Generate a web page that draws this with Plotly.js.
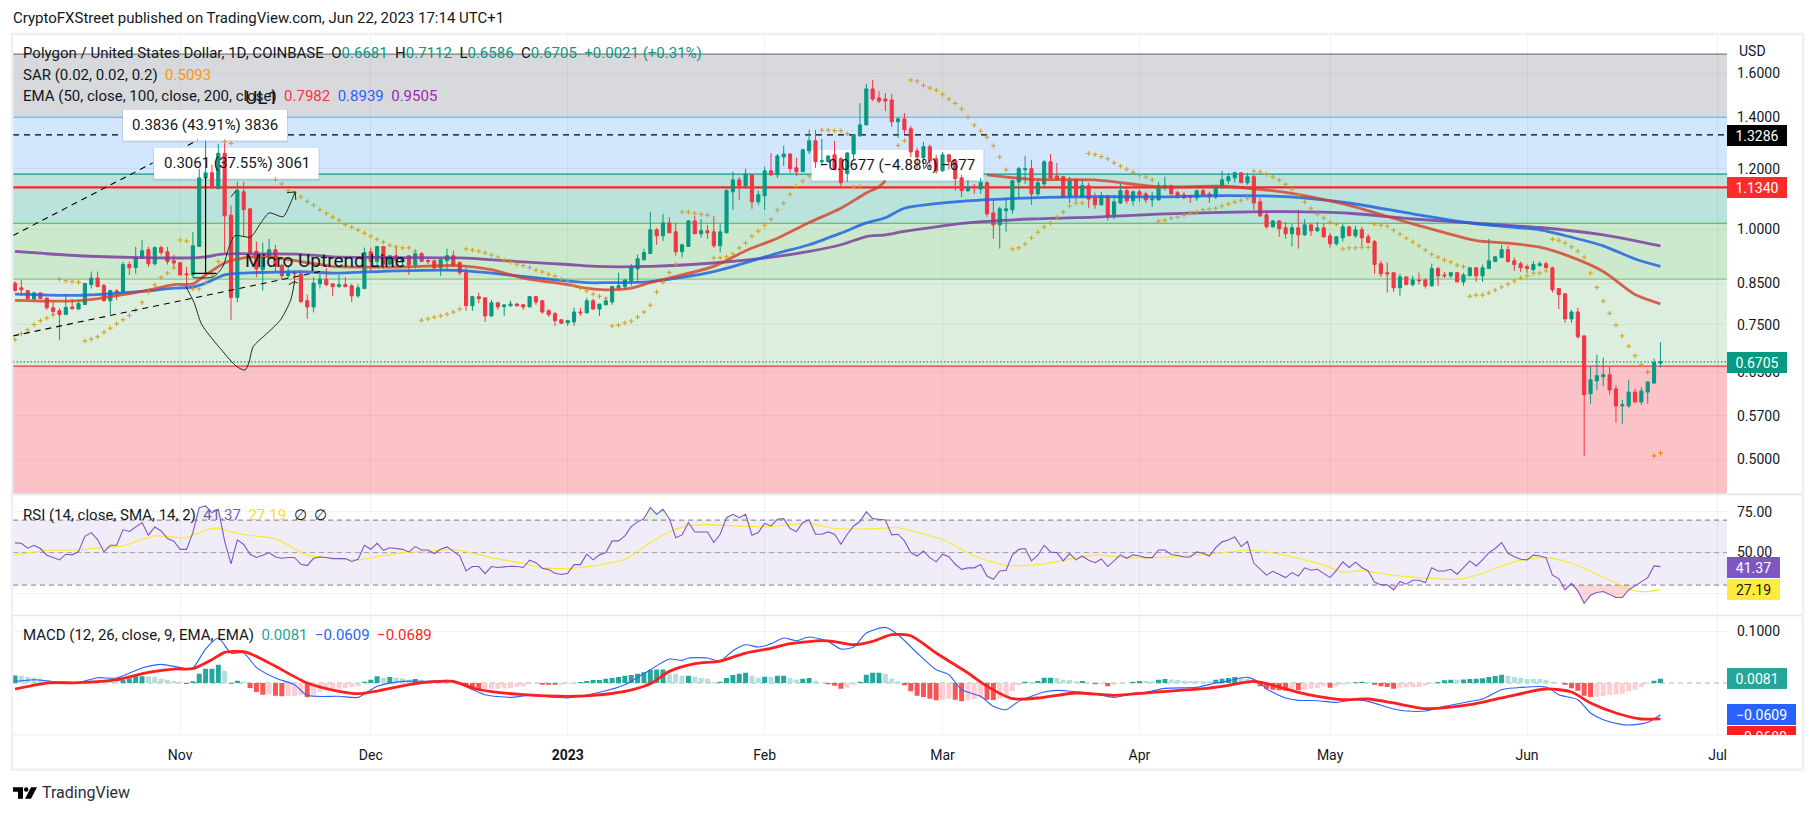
<!DOCTYPE html>
<html><head><meta charset="utf-8">
<script src="https://cdn.plot.ly/plotly-3.0.1.min.js"></script>
<style>html,body{margin:0;padding:0;background:#fff}#c{width:1815px;height:815px}</style>
</head><body><div id="c"></div>
<script>
const opens=[.850,.838,.8305,.810,.825,.812,.789,.782,.773,.791,
.786,.797,.846,.863,.844,.806,.830,.828,.899,.891,
.916,.940,.901,.946,.934,.909,.904,.874,.871,.949,
1.167,1.185,1.130,1.257,1.043,.814,1.119,1.063,.936,.885,
.917,.940,.897,.869,.878,.874,.806,.791,.848,.860,
.848,.841,.846,.843,.818,.836,.934,.907,.949,.900,
.923,.909,.923,.898,.929,.910,.909,.890,.909,.923,
.904,.877,.794,.816,.813,.770,.801,.792,.794,.798,
.796,.791,.816,.806,.782,.775,.761,.754,.756,.779,
.777,.806,.786,.796,.803,.838,.841,.856,.887,.912,
.929,.998,.980,1.019,.992,.934,.949,1.025,.986,.995,
.992,.951,.989,1.119,1.160,1.140,1.178,1.086,1.106,1.192,
1.178,1.243,1.254,1.203,1.189,1.266,1.305,1.225,1.225,1.251,
1.236,1.182,1.254,1.325,1.369,1.526,1.485,1.480,1.476,1.382,
1.394,1.353,1.266,1.240,1.282,1.236,1.192,1.251,1.229,1.167,
1.123,1.137,1.129,1.150,1.050,1.013,1.057,1.060,1.153,1.196,
1.200,1.112,1.146,1.225,1.174,1.171,1.102,1.160,1.102,1.140,
1.099,1.076,1.106,1.044,1.082,1.123,1.089,1.119,1.112,1.092,
1.092,1.136,1.140,1.116,1.109,1.106,1.099,1.123,1.112,1.102,
1.133,1.157,1.167,1.185,1.150,1.171,1.086,1.044,1.007,1.025,
1.004,.986,1.004,.983,1.013,.995,1.004,.980,.957,.974,
1.007,.980,.998,.977,.963,.901,.877,.877,.838,.866,
.846,.858,.858,.843,.888,.871,.869,.877,.853,.869,
.890,.869,.888,.907,.918,.940,.909,.901,.893,.885,
.896,.901,.890,.836,.823,.763,.779,.725,.609,.633,
.641,.645,.618,.587,.587,.612,.594,.612,.629,.6681];
const highs=[.854,.858,.833,.829,.826,.815,.802,.788,.823,.810,
.808,.850,.880,.880,.848,.833,.835,.906,.907,.948,
.968,.948,.949,.951,.948,.926,.905,.892,.991,1.199,
1.306,1.214,1.293,1.301,1.074,1.154,1.154,1.065,.963,.960,
.971,.954,.899,.894,.880,.876,.821,.865,.874,.889,
.848,.871,.865,.848,.848,.946,.946,.949,.949,.923,
.951,.918,.923,.938,.934,.918,.912,.912,.943,.937,
.907,.891,.818,.826,.813,.808,.803,.796,.806,.801,
.798,.816,.818,.808,.786,.779,.763,.761,.789,.789,
.813,.811,.798,.813,.843,.877,.860,.901,.926,.943,
1.054,1.004,1.047,1.037,1.019,.957,1.028,1.041,1.031,1.013,
1.041,1.016,1.129,1.189,1.170,1.200,1.182,1.123,1.207,1.258,
1.254,1.286,1.258,1.240,1.274,1.349,1.349,1.313,1.247,1.305,
1.243,1.262,1.332,1.462,1.549,1.568,1.516,1.507,1.503,1.403,
1.419,1.365,1.278,1.301,1.290,1.251,1.262,1.254,1.232,1.178,
1.160,1.146,1.167,1.157,1.092,1.070,1.099,1.160,1.207,1.247,
1.232,1.164,1.232,1.254,1.221,1.174,1.171,1.164,1.160,1.150,
1.116,1.119,1.109,1.109,1.146,1.140,1.123,1.126,1.119,1.119,
1.153,1.171,1.143,1.123,1.119,1.109,1.126,1.129,1.119,1.140,
1.192,1.185,1.189,1.185,1.185,1.178,1.099,1.057,1.028,1.028,
1.022,1.016,1.060,1.031,1.016,1.022,1.016,.989,.980,1.016,
1.007,1.010,1.007,.986,.968,.909,.904,.877,.874,.866,
.869,.877,.863,.901,.893,.879,.879,.879,.877,.893,
.890,.899,.971,.923,.954,.951,.918,.907,.899,.909,
.907,.907,.893,.836,.823,.784,.789,.725,.661,.685,
.679,.661,.625,.598,.635,.618,.621,.631,.677,.7112];
const lows=[.829,.818,.808,.808,.810,.784,.769,.716,.773,.784,
.786,.797,.836,.839,.805,.774,.808,.823,.871,.874,
.914,.892,.896,.924,.899,.889,.871,.837,.865,.949,
1.165,1.130,1.130,.931,.761,.802,.978,.926,.865,.831,
.914,.880,.860,.863,.846,.800,.763,.778,.836,.841,
.818,.838,.839,.803,.813,.836,.880,.894,.887,.899,
.894,.899,.871,.888,.907,.900,.887,.869,.885,.894,
.871,.782,.782,.800,.756,.768,.784,.770,.791,.791,
.784,.791,.796,.775,.768,.747,.752,.747,.747,.770,
.777,.784,.770,.796,.796,.833,.833,.843,.856,.909,
.929,.954,.965,.989,.923,.918,.949,.986,.974,.971,
.945,.932,.989,1.060,1.092,1.129,1.063,1.076,1.060,1.174,
1.167,1.210,1.185,1.174,1.189,1.254,1.203,1.210,1.221,1.196,
1.133,1.153,1.232,1.321,1.369,1.471,1.462,1.427,1.361,1.317,
1.333,1.243,1.200,1.200,1.196,1.182,1.189,1.196,1.123,1.102,
1.119,1.112,1.112,1.037,.971,.943,.992,1.047,1.095,1.146,
1.076,1.106,1.136,1.164,1.160,1.102,1.082,1.089,1.102,1.066,
1.063,1.073,1.025,1.031,1.079,1.079,1.073,1.086,1.082,1.070,
1.092,1.123,1.109,1.095,1.095,1.082,1.089,1.109,1.082,1.095,
1.133,1.146,1.150,1.150,1.143,1.060,1.037,1.001,1.004,.977,
.971,.949,.943,.980,.980,.992,.974,.946,.951,.963,
.980,.974,.951,.960,.874,.866,.826,.828,.818,.846,
.841,.846,.836,.841,.843,.863,.863,.853,.843,.869,
.853,.853,.888,.907,.918,.904,.882,.879,.877,.882,
.893,.890,.826,.786,.754,.754,.719,.505,.591,.616,
.623,.607,.558,.556,.584,.592,.589,.591,.627,.6586];
const closes=[.831,.833,.8105,.825,.811,.789,.780,.773,.790,.787,
.799,.849,.863,.841,.806,.831,.827,.899,.890,.918,
.937,.901,.946,.932,.907,.903,.871,.872,.951,1.167,
1.185,1.132,1.257,1.041,.814,1.123,1.061,.932,.887,.917,
.940,.894,.869,.876,.874,.804,.791,.850,.860,.846,
.841,.846,.841,.818,.838,.932,.907,.949,.900,.923,
.910,.918,.898,.929,.907,.907,.890,.912,.923,.899,
.877,.794,.816,.811,.770,.801,.791,.796,.798,.794,
.791,.816,.803,.779,.773,.759,.753,.759,.779,.777,
.806,.786,.798,.806,.841,.843,.858,.890,.915,.932,
.998,.980,1.019,.989,.934,.954,1.025,.986,.995,.989,
.951,.992,1.123,1.160,1.140,1.181,1.086,1.109,1.192,1.178,
1.247,1.254,1.200,1.189,1.270,1.305,1.225,1.229,1.247,1.196,
1.150,1.258,1.329,1.369,1.526,1.480,1.471,1.471,1.382,1.394,
1.349,1.262,1.243,1.282,1.229,1.192,1.251,1.225,1.164,1.123,
1.136,1.134,1.150,1.047,1.013,1.063,1.063,1.157,1.200,1.200,
1.112,1.150,1.225,1.167,1.164,1.102,1.157,1.106,1.140,1.095,
1.076,1.106,1.041,1.086,1.123,1.089,1.119,1.109,1.092,1.095,
1.140,1.140,1.112,1.106,1.099,1.102,1.123,1.109,1.102,1.136,
1.160,1.171,1.185,1.150,1.171,1.082,1.041,1.007,1.025,1.001,
.986,1.004,.983,1.013,.995,1.004,.977,.957,.977,1.007,
.980,.998,.974,.960,.899,.874,.874,.838,.866,.846,
.858,.856,.843,.888,.869,.869,.877,.853,.871,.890,
.869,.890,.909,.920,.940,.907,.899,.890,.888,.899,
.901,.890,.833,.821,.763,.779,.723,.607,.635,.643,
.645,.616,.587,.589,.612,.594,.614,.631,.669,.6705];
const sar=[.717,.730,.738,.750,.759,.765,.773,.860,.856,.854,.852,
.714,.718,.723,.733,.742,.752,.761,.771,.783,.802,.827,.845,.865,.876,.890,
.968,.965,.835,.835,.850,.871,.907,
1.302,1.295,null,null,null,null,null,null,1.161,1.146,1.123,1.116,1.102,1.087,1.075,
1.060,1.049,1.037,1.027,1.014,1.006,.997,.988,.979,.970,.962,.953,.948,.945,.945,.936,
.760,.763,.767,.770,.774,.779,.786,
.942,.939,.936,.931,.925,.919,.911,.906,.900,.896,.891,.884,.879,.873,.868,.860,.855,.845,.837,.830,
.822,.817,.812,
.747,.749,.754,.758,.767,.779,.795,.827,.852,.878,.900,
1.053,1.053,1.049,1.046,1.043,
.917,.917,.920,.928,.945,.959,.979,.994,1.012,1.030,1.059,1.081,1.111,1.137,1.156,1.174,
null,
1.348,1.348,1.345,1.345,1.333,
1.135,1.138,null,null,null,null,null,1.287,1.305,
1.567,1.562,1.542,1.530,1.520,1.500,1.480,1.461,1.436,1.401,1.368,1.344,1.319,1.286,1.243,1.196,
.942,.945,.956,.974,.991,1.006,1.018,1.037,1.053,1.072,1.082,1.082,
1.256,1.252,1.244,1.236,1.221,1.209,1.198,1.187,1.177,1.170,1.160,
1.024,1.027,
1.034,1.037,1.043,1.049,1.053,1.060,1.063,1.065,1.072,1.079,1.085,1.091,1.098,
1.191,1.188,1.180,1.170,1.159,1.145,1.128,1.108,1.085,1.065,1.046,1.034,1.021,1.015,
.942,.945,.945,.947,.947,
1.015,1.012,1.009,.997,.985,.973,.962,.951,.939,.927,.919,.911,.906,.897,.893,
.817,.820,.820,.825,.832,.840,.847,.855,.863,.869,.876,.876,.882,
.970,.967,.959,.948,.936,.919,.876,.839,.805,.776,.749,.725,.703,.683,.665,.650,
.505,.5093];
const ema50Idx=[0,10,20,25,28,30,33,36,40,45,50,60,70,75,80,87,90,93,97,100,110,115,120,125,130,134,136,137,138,153,160,170,180,190,200,210,220,230,235,240,245,250,255,259];
const ema50=[.807,.806,.829,.846,.848,.871,.903,.917,.920,.907,.894,.892,.896,.885,.863,.846,.837,.833,.837,.851,.894,.937,.973,1.020,1.065,1.115,1.136,1.157,null,1.178,1.162,1.160,1.136,1.138,1.117,1.074,1.016,.966,.959,.947,.919,.880,.821,.7982];
const ema100Idx=[0,10,20,25,28,30,33,36,40,45,50,60,70,80,87,90,93,100,110,120,125,130,134,137,140,150,160,170,180,190,200,210,220,230,240,245,250,255,259];
const ema100=[.822,.819,.829,.837,.840,.850,.871,.876,.878,.880,.876,.882,.883,.867,.855,.851,.851,.854,.880,.930,.954,.988,1.019,1.035,1.065,1.089,1.099,1.103,1.102,1.106,1.103,1.082,1.047,1.016,.998,.976,.951,.914,.8939];
const ema200Idx=[0,10,20,28,30,33,40,45,50,60,70,80,87,90,93,100,110,120,125,130,134,137,140,150,160,170,180,190,200,210,220,230,240,250,259];
const ema200=[.935,.923,.918,.917,.920,.928,.928,.927,.920,.918,.917,.906,.899,.895,.893,.894,.903,.921,.935,.954,.978,.983,.993,1.019,1.031,1.037,1.046,1.052,1.054,1.049,1.031,1.018,1.005,.983,.9505];
const rsi=[56,55.7,52.7,54.5,52.5,48.4,47,45.5,49,48.6,50.6,60,62.3,58,50.4,54.5,54.5,64,63,66,
68.5,60.7,65.8,63.3,58.6,57,52,52,62.3,77.7,78.7,74.6,76.7,57,43,57.8,55,49,47,48.4,
50,47.3,46.5,47,47,42.8,42,46.5,47.3,47,46.3,46.3,46.3,44.5,45.9,54.5,52,55.7,51.4,53,
52.5,52,50.4,53.7,51.6,51.6,49.4,52,53.5,51,48,38.7,41.4,41.4,37,41.4,40.8,41.2,41.6,41.4,
40.8,45.3,43.8,40.4,39.5,37.3,36.5,37.3,42.6,42.6,49,45.5,48.6,50,57.2,57.2,60.3,66,68.9,70.9,
77.7,73.6,76.7,70.9,59.2,60.9,68.5,62.7,62.7,62.7,56.2,61.3,71.5,73.6,71.5,73.6,60.7,62.3,68,66.4,
70.5,70.9,64.8,62.9,68.5,70.1,61.3,61.3,62.7,61.3,55.1,61.3,66.4,69.1,75.2,70.9,70.5,70.1,60.9,61.3,
57.2,50,47.9,51,46.9,44.3,49,47.5,42.8,39.7,40.6,40.6,42.6,35.6,33.6,38.7,39.1,48.6,52,52.5,
44.9,48.4,54.5,50.4,50,44.9,49.4,45.5,47.9,45.3,43.8,46.1,41.4,44.9,48.6,46.5,48.6,47.9,46.9,46.9,
51.6,51.6,48.8,48.2,47.3,47.3,50.4,49.6,47.9,53.1,56.6,57.8,59.6,53.7,56.8,43.4,39.7,36.1,38.5,36.3,
34.6,37.7,35.6,40.6,39.1,39.7,37.3,34.6,39.1,44.3,40.8,44.1,40.8,38.7,31.9,30.1,30.1,27,32.2,30.5,
33,33,31.5,40.6,38.7,38.7,39.7,36.7,40.8,44.9,41.8,45.5,50,52.5,56.2,49.6,47.5,45.9,45.5,48.4,
47.9,46.9,36.1,34,27,31.1,26.4,18.8,23.7,25.4,26,24.4,22.3,22.3,27,29.5,31.9,34.6,41.8,41.37];
const rsiMaIdx=[0,5,10,13,17,22,27,30,32,34,37,41,46,49,54,57,61,65,69,75,80,83,87,91,96,100,103,106,109,116,119,125,129,136,139,143,146,151,156,161,170,175,179,189,194,199,205,209,212,217,227,230,236,241,245,249,255,257,259];
const rsiMa=[48.6,51.4,51.6,52.9,54.1,60.3,59.2,63.9,65,62.7,60.5,58.6,48.4,46.9,45.5,47.5,50,50.8,52,46.9,43.4,40.8,40.2,41.8,45.9,56.2,62.7,66.4,67.2,66,66,68,64.8,64.8,65.4,61.3,58.2,47.9,42.2,42.6,48.4,46.9,46.9,49.4,51.6,49,43.4,38.1,38.9,36,33.6,36,44.3,46.9,43.4,36.7,26.4,26,27.19];
const hist=[.0147,.0140,.0115,.0102,.0083,.0051,.0032,.0019,.0013,.0013,
.0012,.0036,.0045,.0045,.0042,.0040,.0038,.0064,.0090,.0128,
.0130,.0125,.0122,.0083,.0064,.0038,.0026,-.0019,.0032,.0179,
.0275,.0276,.0352,.0237,-.0013,.0045,.0026,-.0096,-.0173,-.0224,
-.0218,-.0243,-.0256,-.0250,-.0248,-.0230,-.0275,-.0224,-.0173,-.0128,
-.0109,-.0108,-.0096,-.0077,-.0064,.0026,.0064,.0128,.0096,.0115,
.0102,.0090,.0070,.0077,.0064,.0045,.0032,.0019,.0013,.0003,
-.0006,-.0064,-.0090,-.0128,-.0115,-.0109,-.0108,-.0107,-.0096,-.0070,
-.0064,-.0013,-.0006,-.0032,-.0033,-.0034,-.0033,-.0019,-.0013,.0019,
.0038,.0057,.0058,.0083,.0096,.0115,.0141,.0154,.0179,.0205,
.0256,.0258,.0260,.0179,.0178,.0141,.0142,.0122,.0096,.0083,
.0026,.0026,.0096,.0154,.0179,.0198,.0141,.0102,.0122,.0120,
.0141,.0142,.0096,.0070,.0083,.0096,.0045,.0003,-.0026,-.0051,
-.0109,-.0090,-.0045,.0026,.0160,.0198,.0199,.0179,.0083,.0032,
-.0045,-.0160,-.0243,-.0269,-.0301,-.0333,-.0320,-.0301,-.0320,-.0352,
-.0333,-.0307,-.0288,-.0320,-.0326,-.0301,-.0256,-.0160,-.0045,.0026,
.0025,.0038,.0102,.0103,.0096,.0064,.0058,.0032,.0038,.0003,
-.0026,-.0025,-.0064,-.0032,-.0006,-.0002,.0026,.0038,.0037,.0036,
.0064,.0077,.0070,.0058,.0045,.0038,.0037,.0036,.0035,.0064,
.0083,.0096,.0115,.0096,.0077,.0032,-.0064,-.0109,-.0128,-.0141,
-.0147,-.0128,-.0141,-.0128,-.0109,-.0096,-.0064,-.0090,-.0064,-.0032,
-.0013,.0013,.0026,.0019,-.0032,-.0064,-.0077,-.0109,-.0090,-.0085,
-.0080,-.0077,-.0051,-.0013,.0019,.0051,.0064,.0063,.0070,.0077,
.0083,.0090,.0115,.0134,.0160,.0141,.0115,.0102,.0077,.0076,
.0075,.0064,.0026,.0001,-.0032,-.0102,-.0147,-.0243,-.0269,-.0265,
-.0256,-.0224,-.0222,-.0205,-.0160,-.0128,-.0083,-.0019,.0045,.0081];
const macdIdx=[0,3,7,10,13,16,20,23,27,28,30,32,34,36,38,41,44,46,51,54,57,61,65,68,70,74,78,81,87,92,96,100,103,105,106,109,111,113,115,117,119,121,123,125,128,130,132,134,137,139,142,145,147,149,152,154,156,158,162,164,167,170,173,176,178,181,186,189,190,194,196,197,200,202,205,208,211,213,217,219,222,225,229,231,234,236,241,243,246,248,250,253,255,257,259];
const macd=[.0031,.0064,.0019,.0013,.0102,.0096,.0288,.0359,.0276,.0288,.0654,.0865,.0577,.0577,.0301,.0096,-.0032,-.0237,-.0256,-.0276,-.0064,.0032,.0032,.0051,-.0019,-.0224,-.0276,-.0237,-.0288,-.0179,-.0032,.0256,.0461,.0436,.0481,.0481,.0423,.0622,.0737,.0692,.0756,.0865,.0814,.0885,.0801,.0654,.0692,.0961,.1070,.0929,.0577,.0256,.0160,-.0128,-.0256,-.0449,-.0513,-.0353,-.0173,-.0141,-.0167,-.0205,-.0276,-.0199,-.0179,-.0103,-.0083,0,.0013,.0109,0,-.0115,-.0288,-.0333,-.0340,-.0372,-.0320,-.0353,-.0500,-.0538,-.0538,-.0449,-.0353,-.0308,-.0128,-.0096,-.0077,-.0224,-.0321,-.0577,-.0705,-.0801,-.0801,-.0756,-.0609];
const signalIdx=[0,5,10,16,21,25,28,31,33,36,38,41,46,51,54,57,62,66,69,72,75,80,87,91,96,100,103,107,111,115,119,122,127,129,132,135,138,141,145,150,153,157,161,167,173,179,187,190,195,197,202,205,209,213,217,222,229,234,241,245,248,252,256,259];
const signal=[-.0115,0,.0006,.0064,.0205,.0269,.0276,.0449,.0590,.0603,.0513,.0321,0,-.0160,-.0205,-.0154,-.0032,.0026,.0032,-.0096,-.0167,-.0224,-.0256,-.0237,-.0160,-.0013,.0224,.0372,.0423,.0577,.0667,.0756,.0814,.0795,.0737,.0801,.0929,.0910,.0577,.0192,-.0064,-.0301,-.0288,-.0192,-.0237,-.0179,-.0109,-.0064,.0032,-.0013,-.0179,-.0256,-.0320,-.0307,-.0384,-.0493,-.0417,-.0288,-.0115,-.0173,-.0385,-.0577,-.0692,-.0689];
const zoneEdges=[1.694,1.401,1.180,1.018,.860,.662,.4505];
const zoneColors=['#d8d9dd','#d2e6fd','#b9e3db','#cde9cd','#dceedd','#fbc3c7'];
const zoneLines=['#787b86','#64b5f6','#089981','#4caf50','#81c784','#f23645'];
const priceTicks=[1.6,1.4,1.2,1.0,.85,.75,.65,.57,.5];
const priceTickText=['1.6000','1.4000','1.2000','1.0000','0.8500','0.7500','0.6500','0.5700','0.5000'];
const monthTicks=['2022-11-01','2022-12-01','2023-01-01','2023-02-01','2023-03-01','2023-04-01','2023-05-01','2023-06-01','2023-07-01'];
const monthText=['Nov','Dec','<b>2023</b>','Feb','Mar','Apr','May','Jun','Jul'];
// drawings on the price pane: bar index, price
const rangeIdx=[27.9,31.7,null,30,30];
const rangePx=[.875,.875,null,.875,1.171];
const curveAIdx=[28,31.2,32.7,33.7,34.6,37.1,38.7,40,42.2,43.1,44.1];
const curveAPx=[.864,.866,.893,.948,.980,.977,1.019,1.050,1.038,1.069,1.119];
const curveBIdx=[26.9,28.2,29.4,32.5,34.9,36.2,36.8,37.5,39.4,41.8,43.4,44];
const curveBPx=[.841,.801,.750,.695,.661,.654,.668,.702,.727,.761,.808,.854];
const headIdx=[42.8,44.1,44.2,null,43.1,44,44.5,null,34,34.9];
const headPx=[1.116,1.119,1.092,null,.846,.854,.850,null,1.102,1.126];
const trendIdx=[-.3,21.7,null,27.2,28.8,null,-.3,48];
const trendPx=[.981,1.221,null,1.287,1.309,null,.725,.880];

const T0=Date.UTC(2022,9,6),DAY=864e5,PXD=6.353;
const iso=ms=>new Date(ms).toISOString().slice(0,19).replace('T',' ');
const dateAt=i=>i===null?null:iso(T0+i*DAY);
const dates=opens.map((_,i)=>dateAt(i));
const at=a=>a.map(dateAt);
const pxX=px=>dateAt((px-15)/PXD);
const priceAtY=py=>Math.exp((229.3-py)/332);
const fx=px=>(px-13)/1714, fy=py=>(735.3-py)/700.3;
const FONT='Roboto, sans-serif', INK='#131722';

const traces=[];
traces.push({type:'candlestick',x:dates,open:opens,high:highs,low:lows,close:closes,xaxis:'x',yaxis:'y',
  increasing:{line:{color:'#089981',width:1},fillcolor:'#089981'},
  decreasing:{line:{color:'#f23645',width:1},fillcolor:'#f23645'},
  whiskerwidth:0,hoverinfo:'skip',showlegend:false});
const line=(x,y,color,width,ya,extra)=>Object.assign({type:'scatter',mode:'lines',x,y,xaxis:'x',yaxis:ya,
  line:{color,width},hoverinfo:'skip',showlegend:false,connectgaps:false},extra||{});
function sl(x,y,color,width,ya){const t=line(x,y,color,width,ya);t.line.shape='spline';t.line.smoothing=.7;return t;}
traces.push(sl(at(ema200Idx),ema200,'rgba(122,62,160,.85)',2.8,'y'));
traces.push(sl(at(ema100Idx),ema100,'rgba(33,100,225,.85)',2.8,'y'));
traces.push(sl(at(ema50Idx),ema50,'rgba(214,58,40,.78)',2.8,'y'));
traces.push({type:'scatter',mode:'markers',x:dates,y:sar,xaxis:'x',yaxis:'y',hoverinfo:'skip',showlegend:false,
  marker:{symbol:'cross-thin',size:3.4,line:{width:1,color:sar.map(v=>v!==null&&v<.66?'#f57c00':'#cf9f1c')}}});
traces.push(line(at(trendIdx),trendPx,'#000',1.1,'y',{}));traces[traces.length-1].line.dash='6px,5px';
traces.push(line(at(rangeIdx),rangePx,'#000',1.2,'y'));
traces.push(sl(at(curveAIdx),curveAPx,'#1c2b22',1,'y'));
traces.push(sl(at(curveBIdx),curveBPx,'#1c2b22',1,'y'));
traces.push(line(at(headIdx),headPx,'#1c2b22',1,'y'));
// RSI overbought / oversold fills
const base70=rsi.map(()=>70),over=rsi.map(v=>Math.max(v,70));
const base30=rsi.map(()=>30),under=rsi.map(v=>Math.min(v,30));
traces.push(line(dates,base70,'rgba(0,0,0,0)',0,'y2'));
traces.push(line(dates,over,'rgba(0,0,0,0)',0,'y2',{fill:'tonexty',fillcolor:'rgba(76,175,80,.14)'}));
traces.push(line(dates,base30,'rgba(0,0,0,0)',0,'y2'));
traces.push(line(dates,under,'rgba(0,0,0,0)',0,'y2',{fill:'tonexty',fillcolor:'rgba(242,54,69,.2)'}));
traces.push(sl(at(rsiMaIdx),rsiMa,'#fde92f',1.2,'y2'));
traces.push(line(dates,rsi,'#7e57c2',1.1,'y2'));
// MACD
const histColors=hist.map((v,i)=>{const p=i?hist[i-1]:v;return v>=0?(v>=p?'#26a69a':'#b2dfdb'):(v<p?'#ff5252':'#ffcdd2');});
traces.push({type:'bar',x:dates,y:hist,xaxis:'x',yaxis:'y3',width:.78*DAY,marker:{color:histColors,line:{width:0}},hoverinfo:'skip',showlegend:false});
traces.push(sl(at(macdIdx),macd,'#2962ff',1.1,'y3'));
traces.push(sl(at(signalIdx),signal,'#ff1f1f',2.8,'y3'));

const shapes=[];
zoneColors.forEach((c,i)=>shapes.push({type:'rect',xref:'paper',yref:'y',x0:0,x1:1,y0:zoneEdges[i+1],y1:zoneEdges[i],fillcolor:c,line:{width:0},layer:'below'}));
zoneLines.forEach((c,i)=>shapes.push({type:'line',xref:'paper',yref:'y',x0:0,x1:1,y0:zoneEdges[i],y1:zoneEdges[i],line:{color:c,width:1.2},layer:'below'}));
shapes.push({type:'line',xref:'paper',yref:'y',x0:0,x1:1,y0:1.134,y1:1.134,line:{color:'#ff2424',width:2.2},layer:'below'});
shapes.push({type:'line',xref:'paper',yref:'y',x0:0,x1:1,y0:1.3286,y1:1.3286,line:{color:'#000',width:1.1,dash:'6px,5px'},layer:'below'});
shapes.push({type:'line',xref:'paper',yref:'y',x0:0,x1:1,y0:.6705,y1:.6705,line:{color:'#089981',width:1.2,dash:'1.5px,2px'},layer:'below'});
// RSI band
shapes.push({type:'rect',xref:'paper',yref:'y2',x0:0,x1:1,y0:30,y1:70,fillcolor:'#f0ecf8',line:{width:0},layer:'below'});
[[70,'#787b86',1],[50,'rgba(120,123,134,.6)',1],[30,'#787b86',1]].forEach(([v,c,w])=>shapes.push({type:'line',xref:'paper',yref:'y2',x0:0,x1:1,y0:v,y1:v,line:{color:c,width:w,dash:'5px,4px'},layer:'below'}));
shapes.push({type:'line',xref:'paper',yref:'y3',x0:0,x1:1,y0:0,y1:0,line:{color:'rgba(120,123,134,.6)',width:1,dash:'5px,4px'},layer:'below'});
// frame and pane separators
shapes.push({type:'rect',xref:'paper',yref:'paper',x0:fx(12),x1:fx(1803),y0:fy(770),y1:fy(34),line:{color:'#eef0f5',width:2.5},layer:'above'});
[494.6,615.7].forEach(p=>shapes.push({type:'line',xref:'paper',yref:'paper',x0:fx(13),x1:fx(1802),y0:fy(p),y1:fy(p),line:{color:'#e4e6ec',width:1.6},layer:'above'}));
shapes.push({type:'line',xref:'paper',yref:'paper',x0:0,x1:1,y0:0,y1:0,line:{color:'#eceef3',width:1},layer:'above'});
// measure tool labels, drawn behind the candles
[[123,287,110,140.7],[154,318.7,148,179],[811.5,983.5,150,180.7]].forEach(([a,b,c,d])=>{
  shapes.push({type:'rect',xref:'x',yref:'y',layer:'between',x0:pxX(a-1),x1:pxX(b+1),y0:priceAtY(d+2),y1:priceAtY(c),fillcolor:'rgba(60,60,70,.12)',line:{width:0}});
  shapes.push({type:'rect',xref:'x',yref:'y',layer:'between',x0:pxX(a),x1:pxX(b),y0:priceAtY(d),y1:priceAtY(c),fillcolor:'#ffffff',line:{width:0}});
});
// TradingView logo
const P=(x,y)=>fx(x).toFixed(5)+','+fy(y).toFixed(5);
shapes.push({type:'path',xref:'paper',yref:'paper',layer:'above',fillcolor:'#000',line:{width:0},
  path:'M'+P(13,787.5)+' L'+P(23,787.5)+' L'+P(23,799)+' L'+P(18,799)+' L'+P(18,792)+' L'+P(13,792)+' Z'});
shapes.push({type:'path',xref:'paper',yref:'paper',layer:'above',fillcolor:'#000',line:{width:0},
  path:'M'+P(31,787.5)+' L'+P(37,787.5)+' L'+P(31,799)+' L'+P(25,799)+' Z'});
shapes.push({type:'circle',xref:'paper',yref:'paper',layer:'above',fillcolor:'#000',line:{width:0},x0:fx(24),x1:fx(28.4),y0:fy(792),y1:fy(787.6)});

const anns=[];
const T=(px,py,text,opt)=>anns.push(Object.assign({xref:'paper',yref:'paper',x:fx(px),y:fy(py),text,showarrow:false,xanchor:'left',yanchor:'middle',
  font:{family:FONT,size:15,color:INK},borderpad:0,borderwidth:0},opt||{}));
const col=(c,t)=>'<span style="color:'+c+'">'+t+'</span>';
const G='#089981';
T(13,18,'CryptoFXStreet published on TradingView.com, Jun 22, 2023 17:14 UTC+1');
T(23,53.5,'Polygon / United States Dollar, 1D, COINBASE  O'+col(G,'0.6681')+'  H'+col(G,'0.7112')+'  L'+col(G,'0.6586')+'  C'+col(G,'0.6705')+'  '+col(G,'+0.0021 (+0.31%)'));
T(23,75,'SAR (0.02, 0.02, 0.2)  '+col('#ff9800','0.5093'));
T(23,95.7,'EMA (50, close, 100, close, 200, close)  '+col('#f23645','0.7982')+'  '+col('#2962ff','0.8939')+'  '+col('#9c27b0','0.9505'));
T(23,515,'RSI (14, close, SMA, 14, 2)  '+col('#7e57c2','41.37')+'  '+col('#fdd835','27.19')+'  '+'∅  ∅');
T(23,635.7,'MACD (12, 26, close, 9, EMA, EMA)  '+col('#26a69a','0.0081')+'  '+col('#2962ff','−0.0609')+'  '+col('#ff1f1f','−0.0689'));
T(1739,50.7,'USD',{font:{family:FONT,size:14,color:INK}});
T(261,98,'UL1',{xanchor:'center',font:{family:FONT,size:19,color:'#131722'}});
T(324.5,261,'Micro Uptrend Line',{xanchor:'center',font:{family:FONT,size:19,color:'#131722'}});
T(205,125.5,'0.3836 (43.91%) 3836',{xanchor:'center',font:{family:FONT,size:15,color:INK}});
T(236.5,163.5,'0.3061 (37.55%) 3061',{xanchor:'center',font:{family:FONT,size:15,color:INK}});
T(897.5,165.5,'−0.0677 (−4.88%) −677',{xanchor:'center',font:{family:FONT,size:15,color:INK}});
const tag=(py,text,bg,fg,w)=>T(1727,py,text,{bgcolor:bg,font:{family:FONT,size:14,color:fg},width:w,height:21,align:'center'});
tag(135.7,'1.3286','#000','#fff',60);
tag(187.7,'1.1340','#ff2a2a','#fff',60);
tag(362.7,'0.6705','#089981','#fff',60);
tag(567.5,'41.37','#7e57c2','#fff',53);
tag(589.5,'27.19','#ffeb3b','#131722',53);
tag(678.7,'0.0081','#26a69a','#fff',60);
tag(714.5,'−0.0609','#2962ff','#fff',69);
tag(737,'−0.0689','#ff1f1f','#fff',69);
T(1726,742.5,'&nbsp;',{bgcolor:'#fff',width:72,height:14});
T(42,793,'TradingView',{font:{family:FONT,size:16,color:'#2a2e39'}});

const grid='rgba(42,46,57,.06)';
const tf={family:FONT,size:14,color:INK};
const layout={width:1815,height:815,margin:{l:13,r:88,t:35,b:79.7},paper_bgcolor:'#fff',plot_bgcolor:'#fff',
  showlegend:false,hovermode:false,dragmode:false,barmode:'overlay',
  xaxis:{type:'date',anchor:'y3',domain:[0,1],range:[pxX(13),pxX(1727)],rangeslider:{visible:false},tickmode:'array',tickvals:monthTicks,ticktext:monthText,
    showgrid:true,gridcolor:grid,gridwidth:1,zeroline:false,showline:false,ticks:'',tickfont:tf,ticklabelstandoff:10},
  yaxis:{type:'log',domain:[.3446,1],range:[Math.log10(.4505),Math.log10(1.795)],side:'right',anchor:'x',tickmode:'array',tickvals:priceTicks,ticktext:priceTickText,
    showgrid:true,gridcolor:grid,zeroline:false,showline:false,ticks:'',tickfont:tf,ticklabelstandoff:9},
  yaxis2:{domain:[.1708,.3432],range:[11.3,85.6],side:'right',anchor:'x',tickmode:'array',tickvals:[75,50,25],ticktext:['75.00','50.00','25.00'],
    showgrid:true,gridcolor:grid,zeroline:false,showline:false,ticks:'',tickfont:tf,ticklabelstandoff:9},
  yaxis3:{domain:[0,.1708],range:[-.1,.13],side:'right',anchor:'x',tickmode:'array',tickvals:[.1,-.1],ticktext:['0.1000',''],
    showgrid:true,gridcolor:grid,zeroline:false,showline:false,ticks:'',tickfont:tf,ticklabelstandoff:9},
  shapes,annotations:anns};
Plotly.newPlot('c',traces,layout,{displayModeBar:false,staticPlot:true});
</script></body></html>
